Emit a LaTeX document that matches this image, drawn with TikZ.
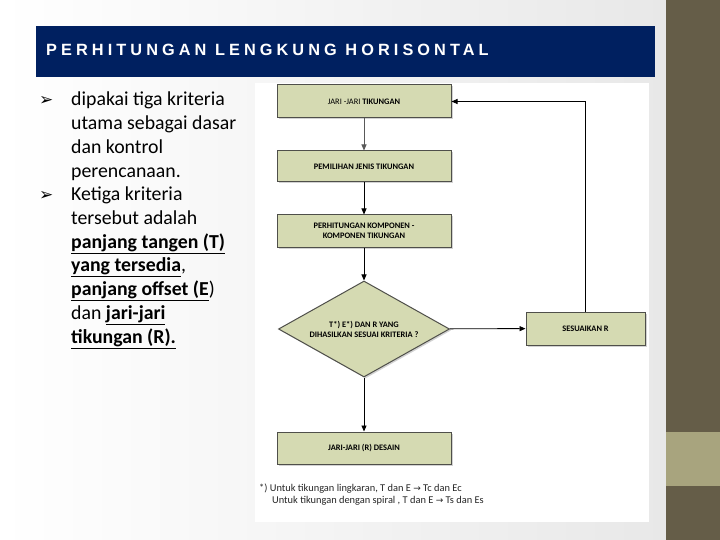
\documentclass[tikz,border=0pt]{standalone}
\usepackage{fontspec}
\setmainfont{Carlito}
\newfontfamily\titlefont[LetterSpace=25]{Liberation Sans}
\newfontfamily\symfont{DejaVu Sans}
\usetikzlibrary{shapes.geometric,arrows.meta,shadows}
\definecolor{navy}{HTML}{002060}
\definecolor{barbrown}{HTML}{655D48}
\definecolor{barlight}{HTML}{A8A47E}
\definecolor{boxfill}{HTML}{D5DAB2}
\definecolor{boxline}{HTML}{4F4F4A}
\tikzset{
  flowbox/.style={draw=boxline, line width=1pt, fill=boxfill, minimum width=174pt,
    inner sep=1pt, align=center, font=\fontsize{8.4}{10}\selectfont\bfseries,
    drop shadow={shadow xshift=1.5pt, shadow yshift=-1.5pt, fill=black!35}},
  flowtext/.style={inner sep=0pt, align=center, font=\fontsize{8.4}{10}\selectfont\bfseries},
  flowarrow/.style={line width=0.9pt, -{Triangle[length=6pt,width=5pt]}},
  bodyline/.style={anchor=base west, inner sep=0pt, font=\fontsize{19.8}{24}\selectfont},
  bullet/.style={anchor=base west, inner sep=0pt, font=\symfont\fontsize{17}{17}\selectfont},
  footline/.style={anchor=base west, inner sep=0pt, font=\fontsize{10.4}{12}\selectfont, text=black!85}
}
\begin{document}
\begin{tikzpicture}[x=1pt,y=-1pt]
\useasboundingbox (0,0) rectangle (720,540);
% background
\shade[left color=white, right color=black!9] (0,0) rectangle (666,540);
\fill[barbrown] (666,0) rectangle (720,540);
\fill[barlight] (666,432) rectangle (720,486);
% title bar
\fill[navy] (36,26) rectangle (655,77);
\node[anchor=base west, inner sep=0pt, text=white, font=\titlefont\fontsize{16.3}{18}\selectfont\bfseries] (title) at (46,56) {PERHITUNGAN LENGKUNG HORISONTAL};
% diagram panel
\fill[white] (255,83) rectangle (649,522);
% left text
\node[bullet] (bu1) at (39,106) {➢};
\node[bullet] (bu2) at (39,201) {➢};
\node[bodyline] (l1) at (71,106) {dipakai tiga kriteria};
\node[bodyline] (l2) at (71,129.7) {utama sebagai dasar};
\node[bodyline] (l3) at (71,153.4) {dan kontrol};
\node[bodyline] (l4) at (71,177.1) {perencanaan.};
\node[bodyline] (l5) at (71,200.8) {Ketiga kriteria};
\node[bodyline] (l6) at (71,224.5) {tersebut adalah};
\node[bodyline] (l7) at (71,248.2) {\underline{\textbf{panjang tangen (T)}}};
\node[bodyline] (l8) at (71,271.9) {\underline{\textbf{yang tersedia}},};
\node[bodyline] (l9) at (71,295.6) {\underline{\textbf{panjang offset (E}})};
\node[bodyline] (l10) at (71,319.3) {dan \underline{\textbf{jari-jari}}};
\node[bodyline] (l11) at (71,343) {\underline{\textbf{tikungan (R).}}};
% flowchart
\node[flowbox, minimum height=33pt] (b1) at (364,101.5) {\mdseries JARI -JARI \bfseries TIKUNGAN};
\node[flowbox, minimum height=31pt] (b2) at (364,166.5) {PEMILIHAN JENIS TIKUNGAN};
\node[flowbox, minimum height=32pt] (b3) at (364,231) {PERHITUNGAN KOMPONEN -\\KOMPONEN TIKUNGAN};
\node[flowbox, shape=diamond, minimum width=171pt, minimum height=96pt, inner sep=0pt] (d) at (364,329) {};
\node[flowtext] (dt) at (364,329) {T*) E*) DAN R YANG\\DIHASILKAN SESUAI KRITERIA ?};
\node[flowbox, minimum width=119pt, minimum height=33pt] (s) at (585.5,328.5) {SESUAIKAN R};
\node[flowbox, minimum height=32pt] (b5) at (364,448) {JARI-JARI (R) DESAIN};
\draw[flowarrow, draw=black!65, -{Triangle[length=6pt,width=5pt,fill=black!65]}] (b1) -- (b2);
\draw[flowarrow] (b2) -- (b3);
\draw[flowarrow] (b3) -- (d);
\draw[flowarrow] (d) -- (s);
\draw[flowarrow] (d) -- (b5);
\draw[flowarrow] (s.north) |- (b1.east);
% footnote
\node[footline] (f1) at (259,491) {*) Untuk tikungan lingkaran, T dan E {\symfont\fontsize{9}{10}\selectfont →} Tc dan Ec};
\node[footline] (f2) at (272,503.5) {Untuk tikungan dengan spiral , T dan E {\symfont\fontsize{9}{10}\selectfont →} Ts dan Es};
\end{tikzpicture}
\end{document}
